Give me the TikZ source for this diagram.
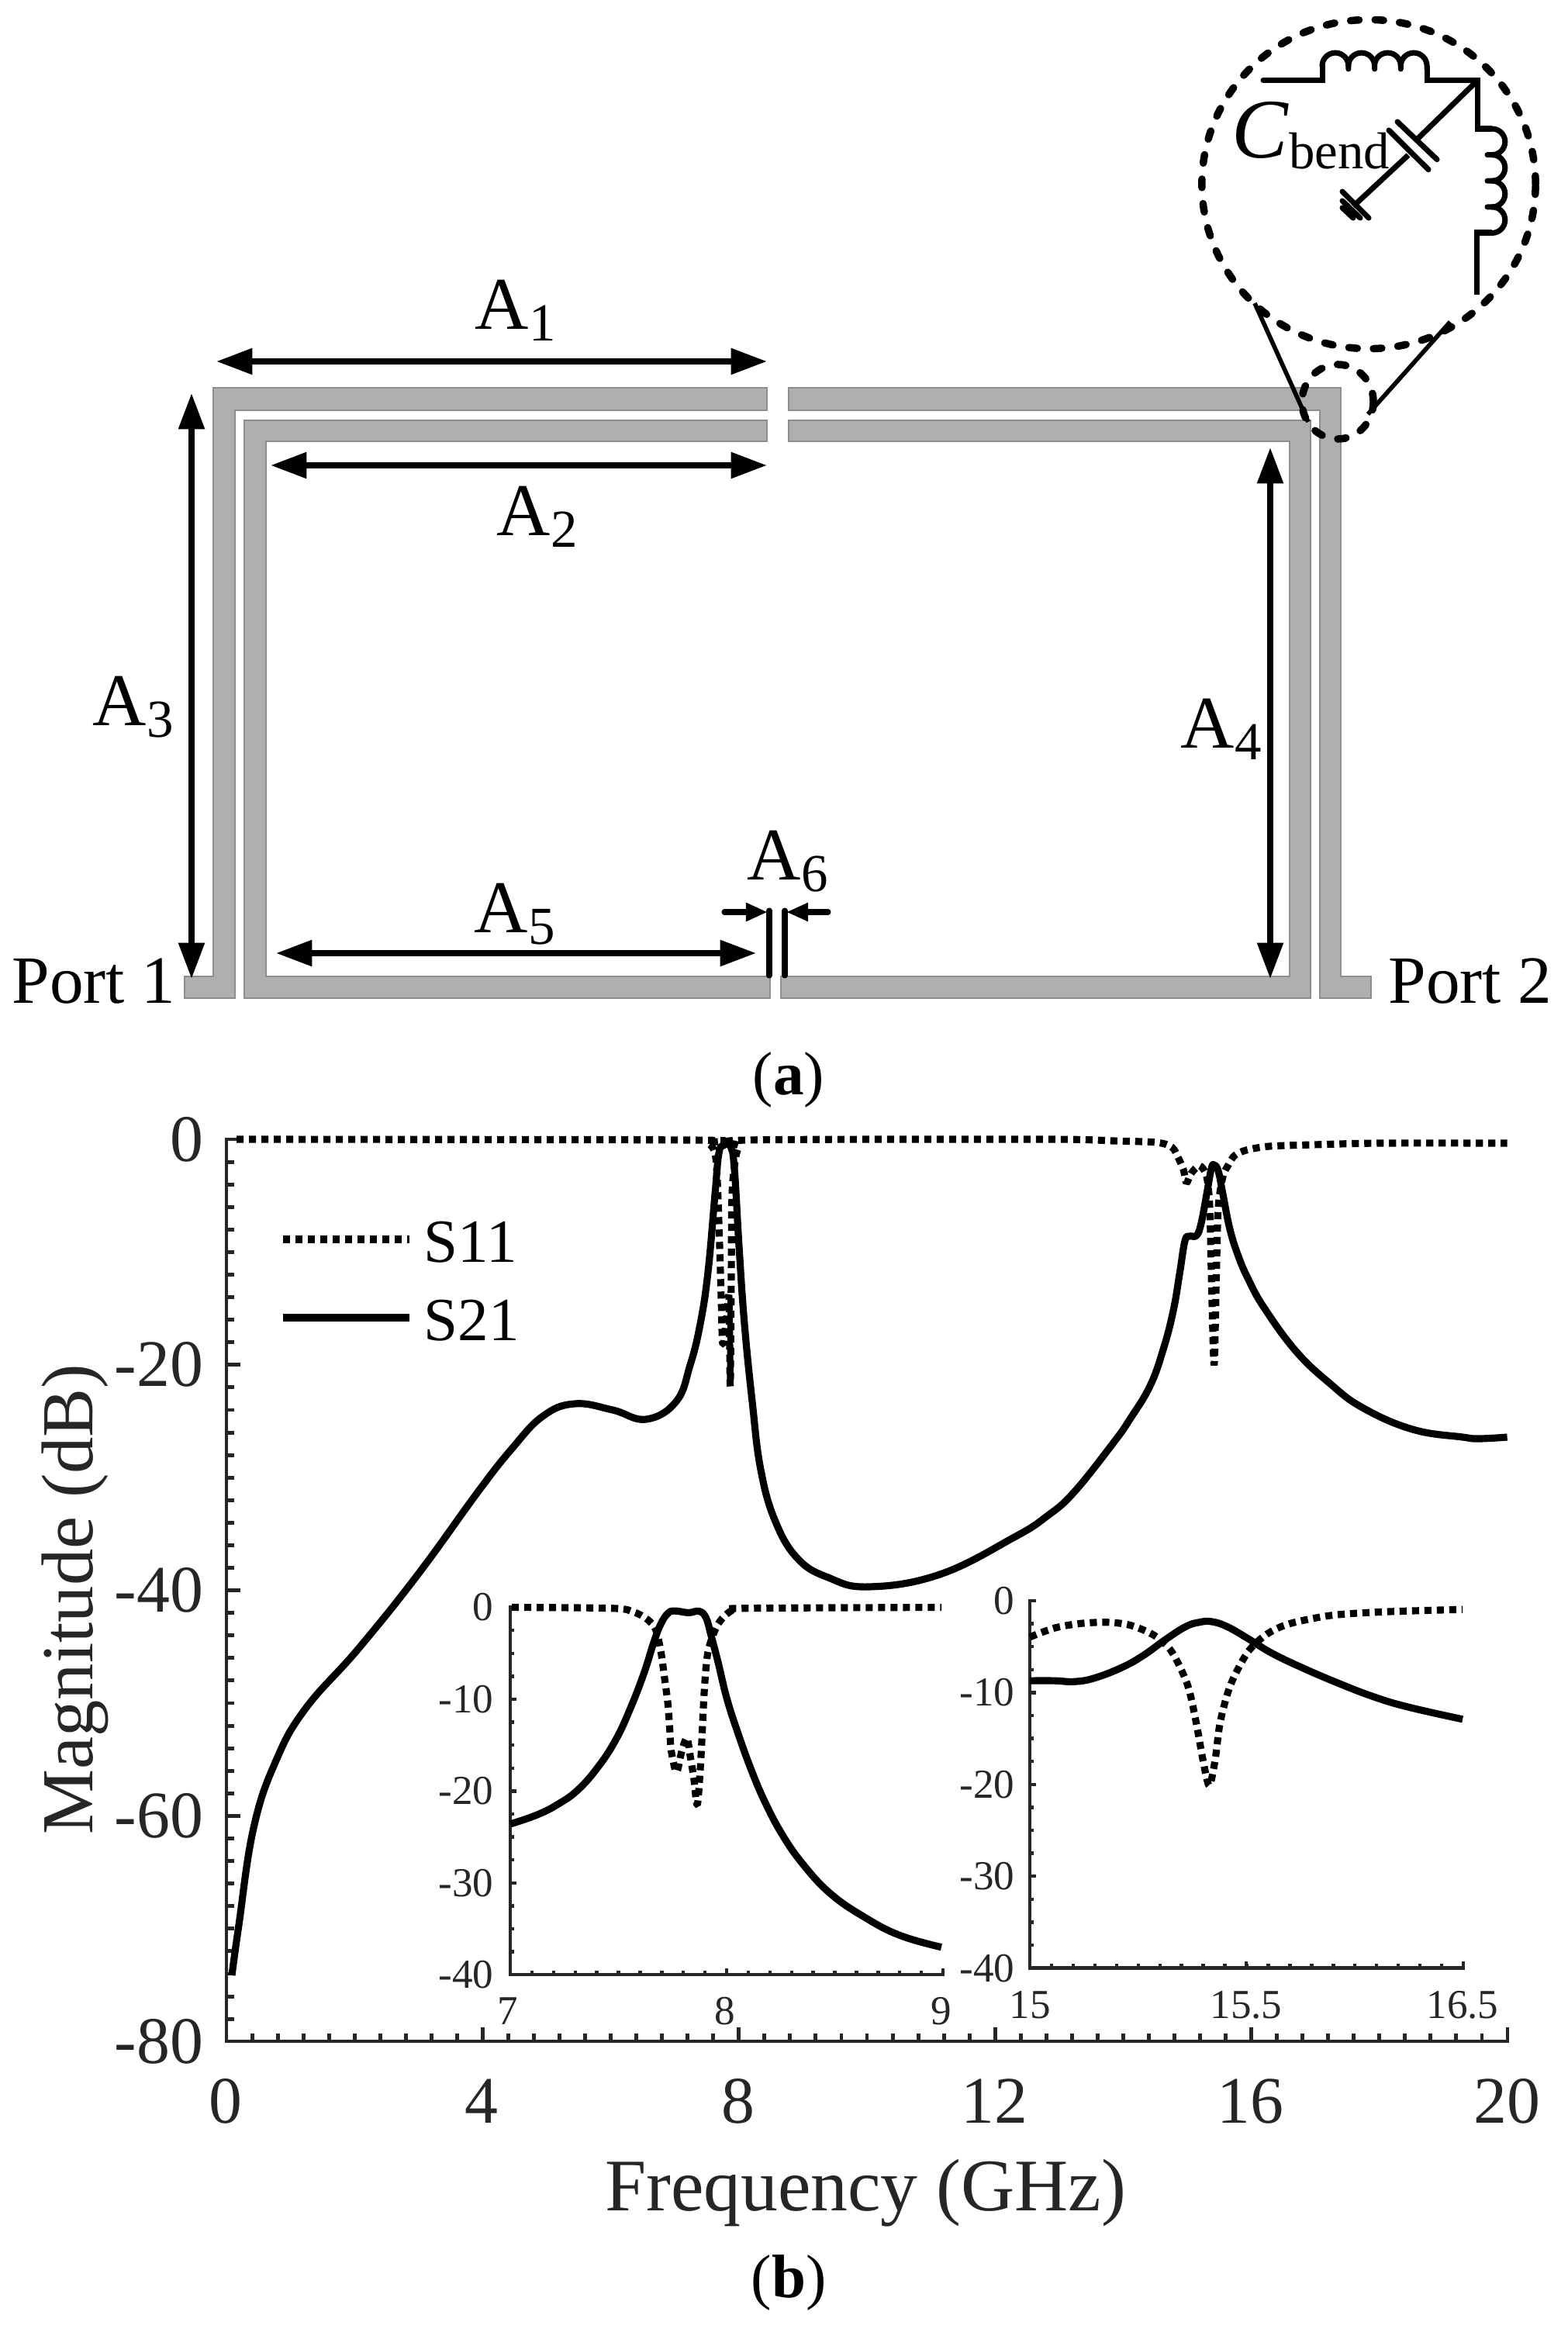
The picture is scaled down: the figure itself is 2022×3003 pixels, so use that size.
\documentclass[tikz,border=0pt]{standalone}
\usepackage{fontspec}
\setmainfont{Liberation Serif}
\usetikzlibrary{arrows.meta}
\definecolor{axiscol}{HTML}{262626}
\definecolor{tracefill}{HTML}{AFAFAF}
\definecolor{traceedge}{HTML}{8E8E8E}
\newcommand{\Asub}[1]{A\raisebox{-4.5pt}{\fontsize{19.6}{20}\selectfont #1}}
\tikzset{
  trace/.style={fill=tracefill, draw=traceedge, line width=0.8pt},
  dimarrow/.style={line width=2.2pt, black, {Triangle[length=13.2pt,width=9.2pt]}-{Triangle[length=13.2pt,width=9.2pt]}},
  gaparrow/.style={line width=2pt, line cap=round, black, -{Triangle[length=8pt,width=6.4pt]}},
  gapline/.style={line width=2pt, line cap=round},
  wire/.style={line width=2pt},
  coilwire/.style={line width=2pt, line cap=round},
  callout/.style={line width=2.7pt, dash pattern=on 3.1pt off 5.9pt, line cap=round},
  leader/.style={line width=1.6pt},
  axisline/.style={axiscol, line width=1.4pt},
  insetline/.style={axiscol, line width=1.25pt},
  sdot/.style={line width=2.6pt, line join=bevel, dash pattern=on 2.6pt off 1.95pt},
  ssolid/.style={line width=2.6pt, line join=round},
  dimlabel/.style={anchor=base west, inner sep=0pt, font=\fontsize{27.3}{28}\selectfont},
  portlabel/.style={anchor=base west, inner sep=0pt, font=\fontsize{24.8}{25}\selectfont},
  bigtick/.style={inner sep=0pt, text=axiscol, font=\fontsize{24.4}{25}\selectfont},
  smalltick/.style={inner sep=0pt, text=axiscol, font=\fontsize{15.1}{16}\selectfont},
  axistitle/.style={inner sep=0pt, text=axiscol, font=\fontsize{27.2}{28}\selectfont},
  legendlabel/.style={anchor=base west, inner sep=0pt, font=\fontsize{22.5}{23}\selectfont},
  panel/.style={inner sep=0pt, font=\fontsize{22.5}{23}\selectfont},
}
\begin{document}
\begin{tikzpicture}[x=0.01cm, y=-0.01cm]
\useasboundingbox (0,0) rectangle (2022,3003);

% Traces (a)
\draw[trace] (238,1259) -- (275,1259) -- (275,500) -- (989,500) -- (989,529) -- (303,529) -- (303,1287) -- (238,1287) -- cycle;
\draw[trace] (315,1287) -- (315,542) -- (989,542) -- (989,569) -- (343,569) -- (343,1259) -- (993,1259) -- (993,1287) -- cycle;
\draw[trace] (1017,500) -- (1729,500) -- (1729,1259) -- (1768,1259) -- (1768,1287) -- (1702,1287) -- (1702,529) -- (1017,529) -- cycle;
\draw[trace] (1017,542) -- (1690,542) -- (1690,1287) -- (1007,1287) -- (1007,1259) -- (1663,1259) -- (1663,569) -- (1017,569) -- cycle;

% Dimension arrows
\coordinate (aoneL) at (279,466);   \coordinate (aoneR) at (989,466);
\coordinate (atwoL) at (349,600);   \coordinate (atwoR) at (989,600);
\coordinate (athreeT) at (247,507); \coordinate (athreeB) at (247,1262);
\coordinate (afourT) at (1638,577); \coordinate (afourB) at (1638,1262);
\coordinate (afiveL) at (356,1229); \coordinate (afiveR) at (975,1229);
\draw[dimarrow] (aoneL) -- (aoneR);
\draw[dimarrow] (atwoL) -- (atwoR);
\draw[dimarrow] (athreeT) -- (athreeB);
\draw[dimarrow] (afourT) -- (afourB);
\draw[dimarrow] (afiveL) -- (afiveR);

% Slot width A6
\coordinate (gapLt) at (992,1174);  \coordinate (gapLb) at (992,1258);
\coordinate (gapRt) at (1012,1174); \coordinate (gapRb) at (1012,1258);
\coordinate (sixL) at (934,1176);   \coordinate (sixLtip) at (990,1176);
\coordinate (sixR) at (1068,1176);  \coordinate (sixRtip) at (1014,1176);
\draw[gapline] (gapLt) -- (gapLb);
\draw[gapline] (gapRt) -- (gapRb);
\draw[gaparrow] (sixL) -- (sixLtip);
\draw[gaparrow] (sixR) -- (sixRtip);

\node[dimlabel] (laba1) at (612,424) {\Asub{1}};
\node[dimlabel] (laba2) at (640,690) {\Asub{2}};
\node[dimlabel] (laba3) at (119,935) {\Asub{3}};
\node[dimlabel] (laba4) at (1522,964) {\Asub{4}};
\node[dimlabel] (laba5) at (611,1202) {\Asub{5}};
\node[dimlabel] (laba6) at (963,1134) {\Asub{6}};
\node[portlabel] (port1) at (15,1293) {Port 1};
\node[portlabel] (port2) at (1790,1293) {Port 2};
\node[panel] (cap1) at (1017,1392) {(\textbf{a})};

% Bend circuit
\draw[callout] (1765,237.5) ellipse [x radius=2.15cm, y radius=2.12cm];
\draw[callout] (1725,518) ellipse [x radius=0.46cm, y radius=0.48cm];
\coordinate (leadAtop) at (1618,391);  \coordinate (leadAbot) at (1687,544);
\coordinate (leadBtop) at (1870,415);  \coordinate (leadBbot) at (1764,534);
\draw[leader] (leadAtop) -- (leadAbot);
\draw[leader] (leadBtop) -- (leadBbot);

\draw[coilwire] (1629,103.6) -- (1705,103.6) -- (1705,85);
\foreach \k in {0,1,2,3}
  \draw[coilwire] ({1705+\k*33.75},85) arc[start angle=180, end angle=0, radius=0.169cm] -- ++(0,4);
\draw[wire] (1840,85) -- (1840,103.6) -- (1905,103.6) -- (1905,166) -- (1924,166);
\foreach \k in {0,1,2,3}
  \draw[coilwire] (1924,{166+\k*33.6}) arc[start angle=90, end angle=-90, radius=0.168cm] -- ++(-6,0);
\draw[wire] (1924,300) -- (1904,300) -- (1904,380);
\draw[wire] (1905,104) -- (1829,178);
\draw[wire] (1816,200) -- (1745,266);
\draw[coilwire] (1802,157) -- (1853,205.6);
\draw[coilwire] (1791,168) -- (1842,218.7);
\draw[coilwire] (1731,247) -- (1765,281);
\draw[coilwire] (1731,259) -- (1754,281);
\draw[coilwire] (1731,268) -- (1745,281);
\node[anchor=base west, inner sep=0pt, font=\fontsize{31}{31}\selectfont] (cbend) at (1588,203.6)
  {\textit{C}\raisebox{-3.95pt}{\fontsize{19}{20}\selectfont bend}};

% Main plot axes (b)
\draw[axisline] (309,1469) -- (292,1469) -- (292,2632) -- (1944,2632) -- (1944,2614);
\foreach \k in {1,...,39}
  \draw[axisline] (292,{1469+\k*29.08}) -- (302,{1469+\k*29.08});
\foreach \k in {1,2,3}
  \draw[axisline] (292,{1469+\k*290.8}) -- (310,{1469+\k*290.8});
\foreach \k in {1,...,49}
  \draw[axisline] ({292+\k*33.04},2632) -- ({292+\k*33.04},2622);
\foreach \k in {1,2,3,4}
  \draw[axisline] ({292+\k*330.4},2632) -- ({292+\k*330.4},2614);
\foreach \val [count=\n from 0] in {0,-20,-40,-60,-80}
  \node[bigtick, anchor=east] (ymain\n) at (263,{1469+\n*290.8}) {\val};
\foreach \val [count=\n from 0] in {0,4,8,12,16,20}
  \node[bigtick, anchor=base] (xmain\n) at ({291+\n*330.4},2737) {\val};
\node[axistitle, rotate=90, font=\fontsize{26.9}{28}\selectfont] (ylab) at (97,2062) {Magnitude (dB)};
\node[axistitle, anchor=base] (xlab) at (1116,2850) {Frequency (GHz)};
\node[panel] (cap2) at (1017,2943) {(\textbf{b})};

% S11
\draw[sdot] plot[smooth, tension=0.5] coordinates {(305,1469) (893,1470) (913,1474) (922,1487) (925,1523) (928,1607) (930,1673) (932,1733)
  (937,1700) (940,1673) (941.7,1787) (943,1640) (944,1540) (948,1497) (953,1478) (963,1470) (1350,1469) (1436,1471) (1491,1473) (1511,1479)
  (1519,1492) (1526,1508) (1530,1525) (1536,1513) (1547,1503) (1556,1517) (1560,1557) (1562,1640) (1565.6,1760) (1568.6,1640) (1571,1557)
  (1577,1517) (1584,1502) (1592,1490) (1607,1483) (1637,1478) (1693,1476) (1779,1474) (1943.6,1474)};
% S21
\draw[ssolid] plot[smooth, tension=0.7] coordinates {(299,2547) (308,2482) (327,2357) (356,2270) (394,2203) (462,2126) (539,2030) (616,1924)
  (660,1868) (700,1826) (741,1810) (790,1818) (833,1830) (872,1807) (890,1760) (903,1707) (913,1640) (922,1540) (927,1487) (933,1477) (942,1478)
  (947,1507) (953,1607) (960,1707) (970,1807) (981,1895) (1000,1962) (1029,2010) (1068,2034) (1120,2046) (1212,2030) (1308,1982) (1350,1955) (1385,1924) (1436,1860)
  (1457,1830) (1483,1787) (1500,1740) (1513,1690) (1521.5,1640) (1528,1600) (1534,1594) (1543,1593) (1549,1577) (1556,1540) (1562,1507)
  (1565.6,1502) (1571,1510) (1577,1540) (1586,1585) (1597,1620) (1610,1650) (1630,1686) (1671,1742) (1714,1783) (1757,1815) (1821.5,1843) (1886,1853)
  (1907,1855) (1943.6,1853)};

% Legend
\coordinate (legAL) at (365,1598); \coordinate (legAR) at (528,1598);
\coordinate (legBL) at (365,1699); \coordinate (legBR) at (528,1699);
\draw[sdot] (legAL) -- (legAR);
\draw[ssolid] (legBL) -- (legBR);
\node[legendlabel] (leg1) at (546,1627) {S11};
\node[legendlabel] (leg2) at (546,1728) {S21};

% Inset around 8 GHz
\draw[insetline] (664,2072.5) -- (658,2072.5) -- (658,2546) -- (1216,2546) -- (1216,2538);
\foreach \k in {1,...,15}
  \draw[insetline] (658,{2072.5+\k*29.6}) -- (663,{2072.5+\k*29.6});
\foreach \k in {1,2,3}
  \draw[insetline] (658,{2072.5+\k*118.4}) -- (666,{2072.5+\k*118.4});
\foreach \k in {1,...,19}
  \draw[insetline] ({658+\k*27.9},2546) -- ({658+\k*27.9},2541);
\draw[insetline] (937,2546) -- (937,2538);
\foreach \val [count=\n from 0] in {0,-10,-20,-30,-40}
  \node[smalltick, anchor=east] (yleft\n) at (637,{2072.5+\n*118.4}) {\val};
\node[smalltick, anchor=base] (xleft1) at (655,2610) {7};
\node[smalltick, anchor=base] (xleft2) at (935,2610) {8};
\node[smalltick, anchor=base] (xleft3) at (1214,2610) {9};
\draw[sdot] plot[smooth, tension=0.5] coordinates {(660,2072.5) (789.8,2073.7) (816.6,2078.3) (834.5,2087.8) (845.6,2101.2) (852.3,2129.9) (856.8,2162.5)
  (861.3,2196.9) (863.5,2227.5) (865.7,2258.1) (872.4,2284.9) (879.1,2258.1) (885.8,2240.9) (890.3,2265.8) (894.7,2292.6) (899.2,2327)
  (903.7,2269.6) (908.1,2181.6) (912.6,2131.8) (921.5,2103.1) (930.4,2087.8) (943.8,2076.4) (959.5,2073.7) (1214,2072.5)};
\draw[ssolid] plot[smooth, tension=0.7] coordinates {(658.1,2351.9) (691.6,2340.4) (718.4,2327) (745.2,2307.9) (772,2277.3) (794.3,2242.8) (812.1,2204.6)
  (830,2158.6) (843.4,2116.5) (852.3,2093.6) (861.3,2080.2) (870.2,2077.1) (888,2079.4) (901.4,2077.5) (910.4,2085.9) (917,2108.9) (926,2143.3)
  (937.1,2189.3) (950.5,2231.4) (968.4,2281.1) (986.3,2323.2) (1008.6,2365.3) (1035.4,2403.6) (1071.1,2441.8) (1115.7,2472.5) (1160.4,2495.4) (1213.9,2510.7)};

% Inset around 15.5 GHz
\draw[insetline] (1336,2064) -- (1328,2064) -- (1328,2537.5) -- (1887,2537.5) -- (1887,2529);
\foreach \k in {1,...,15}
  \draw[insetline] (1328,{2064+\k*29.6}) -- (1333,{2064+\k*29.6});
\foreach \k in {1,2,3}
  \draw[insetline] (1328,{2064+\k*118.4}) -- (1336,{2064+\k*118.4});
\foreach \k in {1,...,19}
  \draw[insetline] ({1328+\k*27.95},2537.5) -- ({1328+\k*27.95},2532);
\draw[insetline] (1607,2537.5) -- (1607,2529);
\foreach \val [count=\n from 0] in {0,-10,-20,-30,-40}
  \node[smalltick, anchor=east] (yright\n) at (1309,{2064+\n*118.4}) {\val};
\node[smalltick, anchor=base] (xright1) at (1328,2602) {15};
\node[smalltick, anchor=base] (xright2) at (1607,2602) {15.5};
\node[smalltick, anchor=base] (xright3) at (1886,2602) {16.5};
\draw[sdot] plot[smooth, tension=0.5] coordinates {(1328,2110.8) (1359.3,2099.3) (1390.5,2093.6) (1426.3,2091.7) (1457.5,2095.5) (1488.8,2108.9) (1511.1,2129.9)
  (1531.2,2172) (1542.3,2219.9) (1551.3,2269.6) (1559.3,2302.2) (1566.9,2269.6) (1573.6,2219.9) (1587,2172) (1609.3,2129.9) (1633.8,2107) (1662.9,2093.6)
  (1716.4,2082.9) (1783.4,2078.3) (1886.1,2075.2)};
\draw[ssolid] plot[smooth, tension=0.7] coordinates {(1328,2167.1) (1359.3,2167.1) (1386.1,2168.2) (1412.9,2163.2) (1448.6,2149.1) (1475.4,2133.8) (1502.1,2114.6)
  (1528.9,2097.4) (1546.8,2091.7) (1562.4,2090.9) (1582.5,2097.4) (1609.3,2112.7) (1640.5,2131.8) (1680.7,2151) (1725.4,2170.1) (1770,2187.3) (1814.6,2200.7) (1886.1,2216.8)};
\end{tikzpicture}
\end{document}
